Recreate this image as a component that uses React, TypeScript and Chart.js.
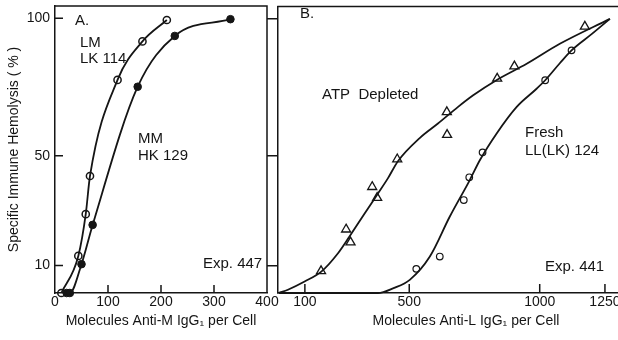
import React, { useEffect, useRef } from "react";
import { Chart, registerables } from "chart.js";
Chart.register(...registerables);

// ---- tick values ----
const yTickValues = [10, 50, 100];
const panelAXTicks = [0, 100, 200, 300, 400];
const panelAInnerXTicks = [100, 200, 300];
const panelBXTicks = [100, 500, 1000, 1250];

// ---- Panel A: LM LK114 (open circles) ----
const lmX = [12, 44, 58, 66, 118, 165, 211];
const lmY = [0, 13.5, 28.7, 42.6, 77.6, 91.6, 99.4];
// ---- Panel A: MM HK129 (filled circles) ----
const mmX = [22, 28, 50, 71, 156, 226, 331];
const mmY = [0, 0, 10.5, 24.8, 75.1, 93.6, 99.7];

// ---- Panel B: ATP depleted (triangles) ----
const atpX = [162, 258, 275, 358, 377, 454, 644, 645, 837, 903, 1173];
const atpY = [8, 23.2, 18.5, 38.7, 34.7, 48.8, 66, 57.7, 78.2, 82.7, 97.2];
// ---- Panel B: Fresh LL(LK)124 (open circles) ----
const freshX = [527, 617, 709, 730, 781, 1021, 1122];
const freshY = [8.8, 13.3, 33.9, 42.2, 51.3, 77.6, 88.5];

// ---- Panel B fitted curves ----
const atpCurveX = [0, 35, 99, 163, 227, 271, 329, 380, 418, 456, 540, 610, 686, 745, 837, 950, 1077, 1269];
const atpCurveY = [0, 1.2, 4.2, 7.8, 14.5, 20.6, 29, 36.3, 41.8, 48, 56.5, 61.8, 67.8, 72.1, 77.8, 83.6, 90.9, 100];
const freshCurveX = [0, 380, 440, 502, 579, 655, 732, 771, 835, 911, 988, 1021, 1077, 1122, 1200, 1269];
const freshCurveY = [0, 0, 1.8, 4.8, 13.3, 27.8, 41.2, 48.5, 58.2, 67.8, 74.5, 77.6, 83.8, 88.5, 94.5, 100];

const zip = (xs: number[], ys: number[]) => xs.map((x, i) => ({ x, y: ys[i] }));

const INK = "#151515";
const FONT = '"Liberation Sans", Arial, sans-serif';

const framePlugin = {
  id: "frame",
  afterDraw(chart: any, _args: any, opts: any) {
    const { ctx, chartArea, scales } = chart;
    const { left, right, top, bottom } = chartArea;
    ctx.save();
    ctx.strokeStyle = INK;
    ctx.lineWidth = 1.5;
    ctx.beginPath();
    ctx.moveTo(left - 0.75, top);
    ctx.lineTo(right + (opts.rightBorder ? 0.75 : 20), top);
    if (opts.rightBorder) {
      ctx.moveTo(right, top);
      ctx.lineTo(right, bottom);
    }
    for (const v of opts.xTicks || []) {
      const x = scales.x.getPixelForValue(v);
      ctx.moveTo(x, bottom);
      ctx.lineTo(x, bottom - opts.tickLen);
    }
    for (const v of opts.yTicks || []) {
      const y = scales.y.getPixelForValue(v);
      ctx.moveTo(left, y);
      ctx.lineTo(left + opts.tickLen, y);
    }
    ctx.stroke();
    ctx.fillStyle = INK;
    ctx.font = "15px " + FONT;
    ctx.textBaseline = "alphabetic";
    ctx.textAlign = "left";
    for (const t of opts.texts || []) ctx.fillText(t.text, t.x, t.y);
    ctx.restore();
  },
};

const noPad = (scale: any) => {
  scale.paddingLeft = 0;
  scale.paddingRight = 0;
  scale.paddingTop = 0;
  scale.paddingBottom = 0;
};

const lineBase = {
  showLine: true,
  borderColor: INK,
  borderWidth: 1.8,
  cubicInterpolationMode: "monotone" as const,
  clip: false as any,
};

export default function App() {
  const refA = useRef<HTMLCanvasElement>(null);
  const refB = useRef<HTMLCanvasElement>(null);

  useEffect(() => {
    Chart.defaults.font.family = FONT;
    Chart.defaults.color = INK;

    const chartA = new Chart(refA.current!, {
      type: "scatter",
      data: {
        datasets: [
          {
            ...lineBase,
            data: zip(lmX, lmY),
            pointRadius: 3.6,
            pointBackgroundColor: "rgba(0,0,0,0)",
            pointBorderColor: INK,
            pointBorderWidth: 1.5,
          },
          {
            ...lineBase,
            data: zip(mmX, mmY),
            pointRadius: 3.8,
            pointBackgroundColor: INK,
            pointBorderColor: INK,
            pointBorderWidth: 1,
          },
        ],
      },
      options: {
        responsive: false,
        animation: false,
        layout: { padding: { top: 6, right: 23, left: 0, bottom: 0 } },
        plugins: {
          legend: { display: false },
          tooltip: { enabled: false },
          frame: {
            rightBorder: true,
            xTicks: panelAInnerXTicks,
            yTicks: yTickValues,
            tickLen: 8,
            texts: [
              { text: "A.", x: 75, y: 25 },
              { text: "LM", x: 80, y: 47 },
              { text: "LK 114", x: 80, y: 63 },
              { text: "MM", x: 138, y: 143 },
              { text: "HK 129", x: 138, y: 160 },
              { text: "Exp. 447", x: 203, y: 268 },
            ],
          },
        } as any,
        scales: {
          x: {
            type: "linear",
            min: 0,
            max: 400,
            afterBuildTicks: (s: any) => { s.ticks = panelAXTicks.map((value) => ({ value })); },
            afterFit: (s: any) => { s.height = 47; noPad(s); },
            grid: { display: false, drawTicks: false },
            border: { display: true, color: INK, width: 1.5 },
            ticks: { padding: 1, font: { size: 14 }, color: INK, callback: (v: any) => String(v), maxRotation: 0, autoSkip: false },
            title: { display: true, text: "Molecules Anti-M IgG\u2081 per Cell", font: { size: 14 }, color: INK, padding: { top: 0, bottom: 10 } },
          },
          y: {
            type: "linear",
            min: 0,
            max: 104.5,
            afterBuildTicks: (s: any) => { s.ticks = yTickValues.map((value) => ({ value })); },
            afterFit: (s: any) => { s.width = 55; noPad(s); },
            grid: { display: false, drawTicks: false },
            border: { display: true, color: INK, width: 1.5 },
            ticks: { padding: 5, font: { size: 14 }, color: INK, callback: (v: any) => String(v) },
            title: { display: true, text: "Specific Immune Hemolysis ( % )", font: { size: 14 }, color: INK, padding: { top: 6, bottom: 0 } },
          },
        },
      },
      plugins: [framePlugin],
    });

    const chartB = new Chart(refB.current!, {
      type: "scatter",
      data: {
        datasets: [
          { ...lineBase, data: zip(atpCurveX, atpCurveY), pointRadius: 0 },
          { ...lineBase, data: zip(freshCurveX, freshCurveY), pointRadius: 0 },
          {
            data: zip(atpX, atpY),
            showLine: false,
            pointStyle: "triangle",
            pointRadius: 5.2,
            pointBackgroundColor: "#ffffff",
            pointBorderColor: INK,
            pointBorderWidth: 1.3,
            clip: false as any,
          },
          {
            data: zip(freshX, freshY),
            showLine: false,
            pointStyle: "circle",
            pointRadius: 3.3,
            pointBackgroundColor: "#ffffff",
            pointBorderColor: INK,
            pointBorderWidth: 1.2,
            clip: false as any,
          },
        ],
      },
      options: {
        responsive: false,
        animation: false,
        layout: { padding: { top: 6, right: 26, left: 0, bottom: 0 } },
        plugins: {
          legend: { display: false },
          tooltip: { enabled: false },
          frame: {
            rightBorder: false,
            xTicks: panelBXTicks,
            yTicks: [],
            tickLen: 9,
            texts: [
              { text: "B.", x: 300 - 260, y: 18 },
              { text: "ATP  Depleted", x: 322 - 260, y: 99 },
              { text: "Fresh", x: 525 - 260, y: 137 },
              { text: "LL(LK) 124", x: 525 - 260, y: 155 },
              { text: "Exp. 441", x: 545 - 260, y: 271 },
            ],
          },
        } as any,
        scales: {
          x: {
            type: "linear",
            min: -3,
            max: 1438,
            afterBuildTicks: (s: any) => { s.ticks = panelBXTicks.map((value) => ({ value })); },
            afterFit: (s: any) => { s.height = 47; noPad(s); },
            grid: { display: false, drawTicks: false },
            border: { display: true, color: INK, width: 1.5 },
            ticks: { padding: 1, font: { size: 14 }, color: INK, callback: (v: any) => String(v), maxRotation: 0, autoSkip: false },
            title: { display: true, text: "Molecules Anti-L IgG\u2081 per Cell", font: { size: 14 }, color: INK, padding: { top: 0, bottom: 10 } },
          },
          y: {
            type: "linear",
            min: 0,
            max: 104.5,
            afterBuildTicks: (s: any) => { s.ticks = yTickValues.map((value) => ({ value })); },
            afterFit: (s: any) => { s.width = 18; noPad(s); },
            grid: { display: true, drawOnChartArea: false, drawTicks: true, tickLength: 11, color: INK, lineWidth: 1.5 },
            border: { display: true, color: INK, width: 1.5 },
            ticks: { display: false },
          },
        },
      },
      plugins: [framePlugin],
    });

    return () => {
      chartA.destroy();
      chartB.destroy();
    };
  }, []);

  return (
    <div style={{ position: "fixed", left: 0, top: 0, width: 618, height: 340, overflow: "hidden", background: "#fff" }}>
      <canvas ref={refA} width={290} height={340} style={{ position: "absolute", left: 0, top: 0 }} />
      <canvas ref={refB} width={420} height={340} style={{ position: "absolute", left: 260, top: 0 }} />
    </div>
  );
}
